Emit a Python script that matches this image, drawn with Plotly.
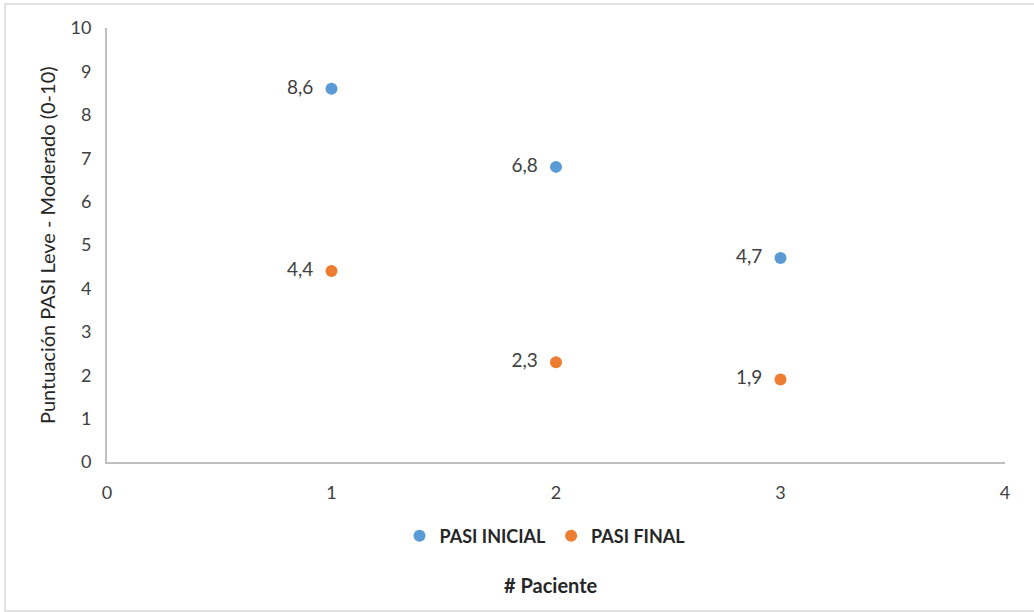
import plotly.graph_objects as go

pacientes = [1, 2, 3]
pasi_inicial = [8.6, 6.8, 4.7]
pasi_final = [4.4, 2.3, 1.9]
series_names = ["PASI INICIAL", "PASI FINAL"]
colors = ["#5B9BD5", "#ED7D31"]

def lab(vals):
    return [f"{v:.1f}".replace(".", ",") + "\u00a0\u00a0" for v in vals]

FONT = "Lato, Calibri, sans-serif"

fig = go.Figure()
for name, vals, c in zip(series_names, [pasi_inicial, pasi_final], colors):
    fig.add_trace(go.Scatter(
        x=pacientes, y=vals, mode="markers+text", name=name,
        marker=dict(color=c, size=12),
        text=lab(vals), textposition="middle left",
        textfont=dict(family=FONT, size=19, color="#404040"),
    ))

W, H = 1034, 612
L, R, T, B = 107, 29, 28, 150
pw, ph = W - L - R, H - T - B

def px(x):
    return (x - L) / pw

def py(y):
    return (H - B - y) / ph

fig.update_layout(
    width=W, height=H,
    margin=dict(l=L, r=R, t=T, b=B),
    paper_bgcolor="white", plot_bgcolor="white",
    font=dict(family=FONT, size=18, color="#404040"),
    showlegend=True,
    legend=dict(orientation="h", x=px(545), xanchor="center", y=py(536), yanchor="middle",
                font=dict(family=FONT, size=18, color="#262626", weight="bold"),
                itemsizing="constant", itemwidth=30, tracegroupgap=0),
    xaxis=dict(range=[0, 4], dtick=1, showgrid=False, zeroline=False,
               showline=True, linecolor="#BFBFBF", linewidth=2,
               ticks="outside", ticklen=13, tickcolor="rgba(0,0,0,0)",
               tickfont=dict(family=FONT, size=18, color="#404040")),
    yaxis=dict(range=[0, 10], dtick=1, showgrid=False, zeroline=False,
               showline=True, linecolor="#BFBFBF", linewidth=2,
               ticks="outside", ticklen=10, tickcolor="rgba(0,0,0,0)",
               tickfont=dict(family=FONT, size=18, color="#404040")),
    annotations=[
        dict(text="Puntuación PASI Leve - Moderado (0-10)", textangle=-90,
             xref="paper", yref="paper", x=px(47), y=py(245),
             xanchor="center", yanchor="middle", showarrow=False,
             font=dict(family=FONT, size=20, color="#262626")),
        dict(text="<b># Paciente</b>", xref="paper", yref="paper",
             x=px(551), y=py(585), xanchor="center", yanchor="middle",
             showarrow=False, font=dict(family=FONT, size=20, color="#262626")),
    ],
    shapes=[dict(type="rect", xref="paper", yref="paper",
                 x0=px(5), x1=px(1040), y0=py(611), y1=py(4),
                 line=dict(color="#D9D9D9", width=1.5), layer="below")],
)

fig.write_html("out.html")
